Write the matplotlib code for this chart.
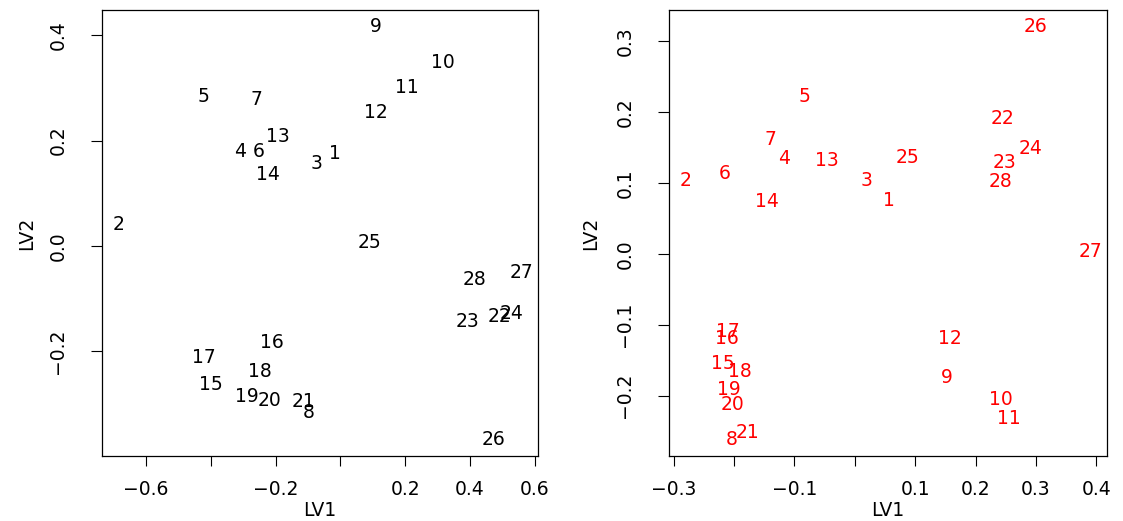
import matplotlib
matplotlib.use("Agg")
import matplotlib.pyplot as plt

labels = [str(i) for i in range(1, 29)]

# Left panel (black) LV1 / LV2
left_x = [-0.018, -0.686, -0.074, -0.311, -0.422, -0.252, -0.258, -0.098, 0.108, 0.317,
          0.206, 0.108, -0.194, -0.225, -0.400, -0.212, -0.422, -0.249, -0.289, -0.218,
          -0.114, 0.492, 0.391, 0.529, 0.089, 0.471, 0.560, 0.415]
left_y = [0.175, 0.040, 0.156, 0.179, 0.284, 0.179, 0.278, -0.316, 0.417, 0.349,
          0.301, 0.253, 0.208, 0.135, -0.263, -0.183, -0.213, -0.238, -0.286, -0.293,
          -0.295, -0.135, -0.143, -0.128, 0.006, -0.368, -0.051, -0.063]

# Right panel (red) LV1 / LV2
right_x = [0.056, -0.281, 0.019, -0.117, -0.083, -0.215, -0.140, -0.204, 0.152, 0.242,
           0.255, 0.158, -0.047, -0.145, -0.219, -0.212, -0.211, -0.191, -0.208, -0.203,
           -0.178, 0.245, 0.248, 0.291, 0.087, 0.300, 0.391, 0.241]
right_y = [0.075, 0.104, 0.103, 0.135, 0.222, 0.114, 0.161, -0.262, -0.174, -0.205,
           -0.232, -0.119, 0.132, 0.074, -0.155, -0.119, -0.109, -0.166, -0.192, -0.212,
           -0.252, 0.191, 0.129, 0.149, 0.136, 0.321, 0.004, 0.102]

left_xticks = [-0.6, -0.4, -0.2, 0.0, 0.2, 0.4, 0.6]
left_xticklabels = ["\u22120.6", "", "\u22120.2", "", "0.2", "0.4", "0.6"]
left_yticks = [-0.2, 0.0, 0.2, 0.4]
left_yticklabels = ["\u22120.2", "0.0", "0.2", "0.4"]

right_xticks = [-0.3, -0.2, -0.1, 0.0, 0.1, 0.2, 0.3, 0.4]
right_xticklabels = ["\u22120.3", "", "\u22120.1", "", "0.1", "0.2", "0.3", "0.4"]
right_yticks = [-0.2, -0.1, 0.0, 0.1, 0.2, 0.3]
right_yticklabels = ["\u22120.2", "\u22120.1", "0.0", "0.1", "0.2", "0.3"]

FS = 13.5
plt.rcParams['font.family'] = ['DejaVu Sans']

fig = plt.figure(figsize=(11.23, 5.21), dpi=100)
W, H = 1123, 521


def make_ax(x0, x1, y0, y1):
    return fig.add_axes([x0 / W, 1 - y1 / H, (x1 - x0) / W, (y1 - y0) / H])


def r_range(v):
    lo, hi = min(v), max(v)
    d = (hi - lo) * 0.04
    return lo - d, hi + d


def style(ax, xt, xtl, yt, ytl, ylab_x):
    ax.set_xticks(xt)
    ax.set_xticklabels(xtl, fontsize=FS)
    ax.set_yticks(yt)
    ax.set_yticklabels(ytl, fontsize=FS, rotation=90, va='center')
    ax.tick_params(axis='x', direction='out', length=7, width=0.8, pad=10)
    ax.tick_params(axis='y', direction='out', length=8, width=0.8, pad=17)
    for s in ax.spines.values():
        s.set_linewidth(0.9)
        s.set_color('black')
    ax.set_xlabel("LV1", fontsize=FS)
    ax.set_ylabel("LV2", fontsize=FS)
    ax.xaxis.set_label_coords(0.5, -0.1)
    ax.yaxis.set_label_coords(ylab_x, 0.5)


ax1 = make_ax(102, 538, 10, 456)
for lx, ly, lab in zip(left_x, left_y, labels):
    ax1.text(lx, ly, lab, ha='center', va='center', fontsize=FS, color='black')
ax1.set_xlim(*r_range(left_x))
ax1.set_ylim(*r_range(left_y))
style(ax1, left_xticks, left_xticklabels, left_yticks, left_yticklabels, -0.15)

ax2 = make_ax(669, 1107, 10, 456)
for lx, ly, lab in zip(right_x, right_y, labels):
    ax2.text(lx, ly, lab, ha='center', va='center', fontsize=FS, color='red')
ax2.set_xlim(*r_range(right_x))
ax2.set_ylim(*r_range(right_y))
style(ax2, right_xticks, right_xticklabels, right_yticks, right_yticklabels, -0.158)

fig.savefig("out.png", dpi=100)
